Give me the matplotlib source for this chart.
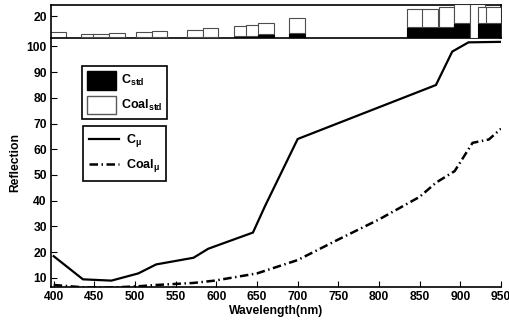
import matplotlib
matplotlib.use("Agg")
import matplotlib.pyplot as plt
from matplotlib.patches import Patch
from matplotlib.lines import Line2D

plt.rcParams['font.family'] = ['Liberation Sans', 'DejaVu Sans']
plt.rcParams['font.weight'] = 'bold'
plt.rcParams['mathtext.fontset'] = 'custom'
plt.rcParams['mathtext.rm'] = 'Liberation Sans:bold'
plt.rcParams['mathtext.it'] = 'Liberation Sans:bold'
plt.rcParams['mathtext.bf'] = 'Liberation Sans:bold'
plt.rcParams['mathtext.default'] = 'regular'

# mean reflection curves
c_wl = [400, 436, 471, 504, 526, 572, 590, 645, 660, 700, 870, 890, 910, 950]
c_mu = [18.4, 9.4, 8.9, 11.7, 15.2, 17.8, 21.3, 27.6, 38.0, 64.0, 85.0, 98.0, 101.6, 101.8]

coal_wl = [400, 436, 471, 504, 526, 572, 598, 650, 700, 750, 800, 850, 870, 893, 915, 935, 950]
coal_mu = [7.2, 6.3, 6.2, 6.7, 7.2, 8.0, 8.9, 11.7, 16.9, 24.9, 32.7, 41.5, 47.0, 51.5, 62.5, 63.8, 68.0]

# standard deviations (stacked bars)
std_wl = [405, 443, 458, 478, 511, 530, 574, 593, 631, 646, 661, 699,
          844, 863, 883, 902, 921, 931, 941]
c_std = [0.3, 0.8, 0.8, 0.8, 1.0, 1.2, 1.5, 1.5, 2.0, 2.0, 3.9, 5.0,
         9.9, 9.9, 10.4, 14.0, 0.0, 14.0, 14.0]
coal_std = [5.1, 3.1, 3.1, 3.7, 4.4, 5.3, 5.9, 7.7, 9.0, 9.7, 10.1, 12.9,
            16.1, 16.6, 17.9, 17.0, 31.0, 13.8, 13.8]

fs = 8.7
fig = plt.figure(figsize=(5.09, 3.23), dpi=100)
ax = fig.add_axes([51 / 509, 1 - 287.3 / 323, 450 / 509, 248.8 / 323])
axt = fig.add_axes([51 / 509, 1 - 38.3 / 323, 450 / 509, 33.3 / 323])

ax.plot(c_wl, c_mu, color='black', lw=1.6, solid_joinstyle='miter')
ax.plot(coal_wl, coal_mu, color='black', lw=1.8, dashes=(3.4, 1.4, 0.6, 1.4))

ax.set_xlim(396.7, 950)
ax.set_ylim(6.3, 103.1)
ax.set_xticks(range(400, 951, 50))
ax.set_yticks(range(10, 101, 10))
ax.tick_params(direction='in', length=4, width=0.8, labelsize=fs, pad=3)
for s in ['top', 'right']:
    ax.spines[s].set_visible(False)
for s in ['left', 'bottom']:
    ax.spines[s].set_linewidth(1.2)
ax.set_xlabel('Wavelength(nm)', fontsize=fs, fontweight='bold', labelpad=1)
ax.set_ylabel('Reflection', fontsize=fs, fontweight='bold', labelpad=4)

# std bars, drawn left to right so each one overlaps the previous
bw = 19.2
for i, (w, a, b) in enumerate(zip(std_wl, c_std, coal_std)):
    axt.bar(w, a, width=bw, color='black', edgecolor='black', lw=0.8, zorder=2 + i)
    axt.bar(w, b, bottom=a, width=bw, color='white', edgecolor='0.3', lw=0.8, zorder=2 + i)
axt.set_xlim(396.7, 950)
axt.set_ylim(0, 30)
axt.set_xticks([])
axt.set_yticks([20])
axt.tick_params(direction='in', length=4, width=0.8, labelsize=fs, pad=3)
for s in axt.spines.values():
    s.set_linewidth(1.2)

bar_handles = [Patch(facecolor='black', edgecolor='black'),
               Patch(facecolor='white', edgecolor='0.35')]
leg1 = ax.legend(bar_handles, ['C$_{std}$', 'Coal$_{std}$'],
                 loc='upper left', bbox_to_anchor=(82 / 509, 1 - 66 / 323),
                 bbox_transform=fig.transFigure, fontsize=fs + 0.3,
                 fancybox=False, framealpha=1, edgecolor='black',
                 handlelength=2.3, handleheight=1.9, handletextpad=0.4,
                 labelspacing=0.5, borderpad=0.4, borderaxespad=0)
leg1.get_frame().set_linewidth(1.2)
ax.add_artist(leg1)

line_handles = [Line2D([], [], color='black', lw=1.6),
                Line2D([], [], color='black', lw=1.8, dashes=(3.4, 1.4, 0.6, 1.4))]
leg2 = ax.legend(line_handles, [r'C$_{\mu}$', r'Coal$_{\mu}$'],
                 loc='upper left', bbox_to_anchor=(83 / 509, 1 - 126 / 323),
                 bbox_transform=fig.transFigure, fontsize=fs + 0.3,
                 fancybox=False, framealpha=1, edgecolor='black',
                 handlelength=2.4, handletextpad=0.5,
                 labelspacing=0.65, borderpad=0.5, borderaxespad=0)
leg2.get_frame().set_linewidth(1.2)

fig.savefig('out.png', dpi=100)
